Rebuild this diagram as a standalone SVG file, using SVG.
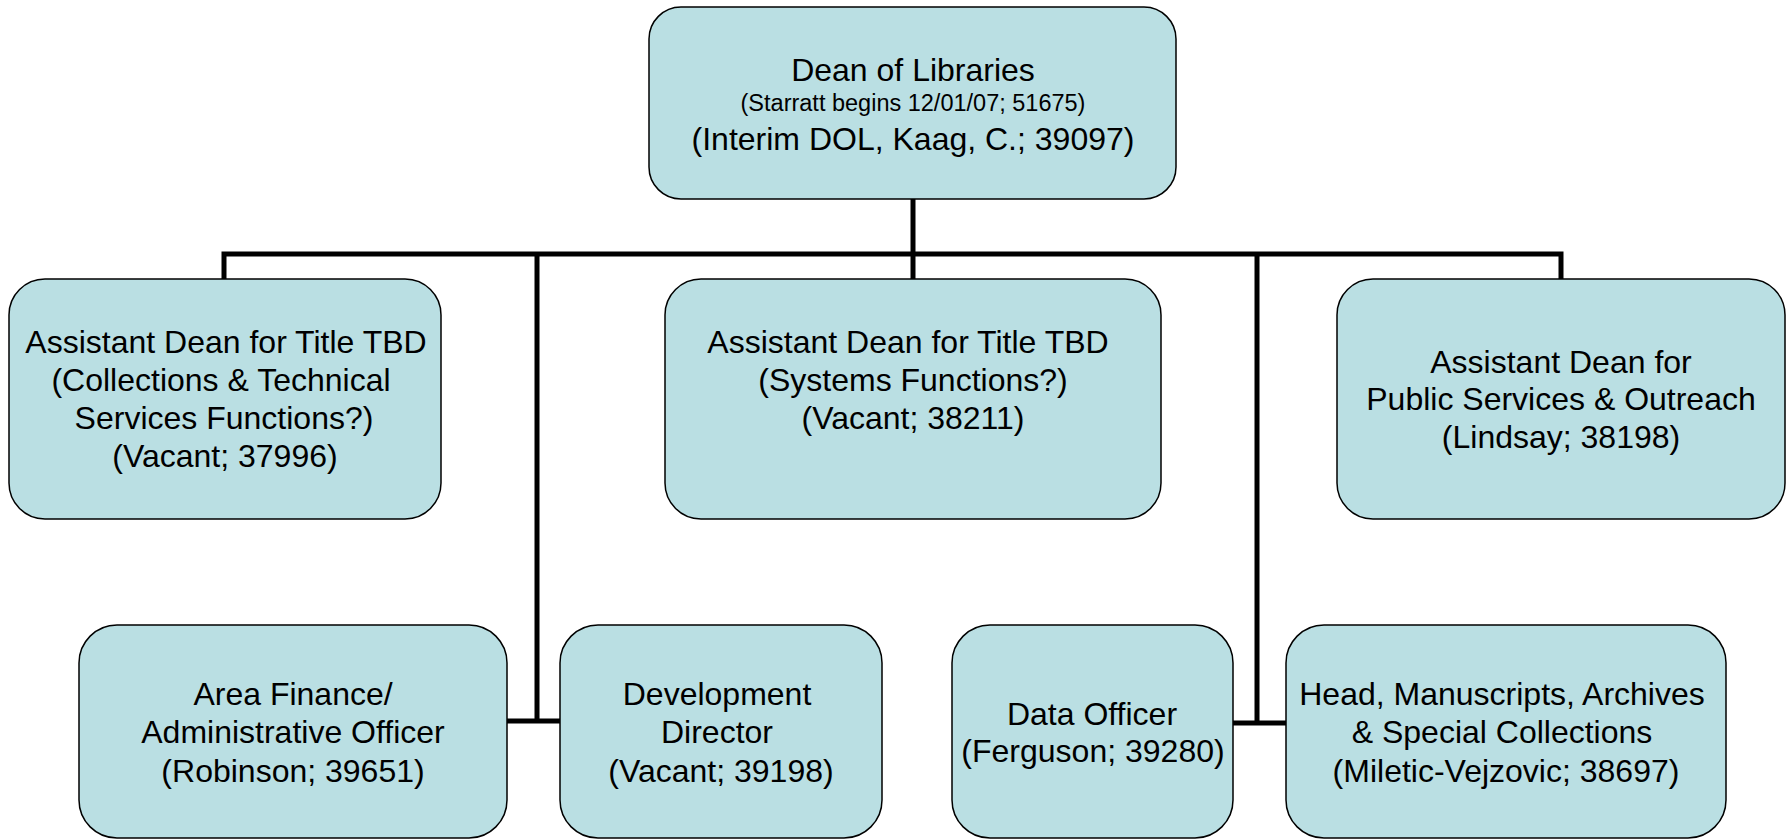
<svg xmlns="http://www.w3.org/2000/svg" width="1792" height="839" viewBox="0 0 1792 839">
<style>
.box{fill:#BADFE3;stroke:#000;stroke-width:1.5}
.t{font-family:"Liberation Sans",Arial,sans-serif;font-size:32px;fill:#000;text-anchor:middle}
.s{font-size:23.5px}
.c{fill:none;stroke:#000;stroke-width:5}
</style>
<rect width="1792" height="839" fill="#fff"/>
<g id="connectors">
<path class="c" d="M913 199 V279"/>
<path class="c" d="M224 279 V254 H1561 V279"/>
<path class="c" d="M537 254 V721 M507 721 H560"/>
<path class="c" d="M1257 254 V723 M1233 723 H1286"/>
</g>
<g id="dean">
<rect class="box" x="649" y="7" width="527" height="192" rx="32"/>
<text class="t" x="913" y="81">Dean of Libraries</text>
<text class="t s" x="913" y="111">(Starratt begins 12/01/07; 51675)</text>
<text class="t" x="913" y="150">(Interim DOL, Kaag, C.; 39097)</text>
</g>
<g id="ad-collections">
<rect class="box" x="9" y="279" width="432" height="240" rx="36"/>
<text class="t" x="226" y="353">Assistant Dean for Title TBD</text>
<text class="t" x="221" y="391">(Collections &amp; Technical</text>
<text class="t" x="224" y="429">Services Functions?)</text>
<text class="t" x="225" y="467">(Vacant; 37996)</text>
</g>
<g id="ad-systems">
<rect class="box" x="665" y="279" width="496" height="240" rx="36"/>
<text class="t" x="908" y="353">Assistant Dean for Title TBD</text>
<text class="t" x="913" y="391">(Systems Functions?)</text>
<text class="t" x="913" y="429">(Vacant; 38211)</text>
</g>
<g id="ad-public">
<rect class="box" x="1337" y="279" width="448" height="240" rx="36"/>
<text class="t" x="1561" y="373">Assistant Dean for</text>
<text class="t" x="1561" y="410">Public Services &amp; Outreach</text>
<text class="t" x="1561" y="448">(Lindsay; 38198)</text>
</g>
<g id="finance">
<rect class="box" x="79" y="625" width="428" height="213" rx="38"/>
<text class="t" x="293" y="705">Area Finance/</text>
<text class="t" x="293" y="743">Administrative Officer</text>
<text class="t" x="293" y="782">(Robinson; 39651)</text>
</g>
<g id="development">
<rect class="box" x="560" y="625" width="322" height="213" rx="38"/>
<text class="t" x="717" y="705">Development</text>
<text class="t" x="717" y="743">Director</text>
<text class="t" x="721" y="782">(Vacant; 39198)</text>
</g>
<g id="data">
<rect class="box" x="952" y="625" width="281" height="213" rx="38"/>
<text class="t" x="1092" y="725">Data Officer</text>
<text class="t" x="1093" y="762">(Ferguson; 39280)</text>
</g>
<g id="manuscripts">
<rect class="box" x="1286" y="625" width="440" height="213" rx="38"/>
<text class="t" x="1502" y="705">Head, Manuscripts, Archives</text>
<text class="t" x="1502" y="743">&amp; Special Collections</text>
<text class="t" x="1506" y="782">(Miletic-Vejzovic; 38697)</text>
</g>
</svg>
